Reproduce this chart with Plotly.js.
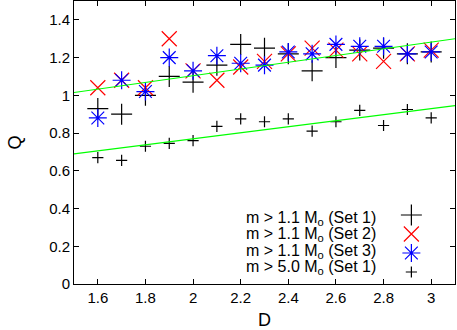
<!DOCTYPE html>
<html>
<head>
<meta charset="utf-8">
<script src="https://cdn.plot.ly/plotly-3.0.1.min.js"></script>
<style>
  html, body { margin: 0; padding: 0; background: #fff; }
  #graph { width: 457px; height: 330px; }
</style>
</head>
<body>
<div id="graph"></div>
<script>
// D values shared by all sets
var dVals = [1.6, 1.7, 1.8, 1.9, 2.0, 2.1, 2.2, 2.3, 2.4, 2.5, 2.6, 2.7, 2.8, 2.9, 3.0];

// Q
var qSet1 = [0.93, 0.90, 1.00, 1.10, 1.07, 1.16, 1.27, 1.25, 1.22, 1.13, 1.20, 1.24, 1.25, 1.22, 1.23];
var qSet2 = [1.04, 1.08, 1.04, 1.30, 1.13, 1.08, 1.15, 1.18, 1.22, 1.25, 1.24, 1.22, 1.18, 1.22, 1.24];
var qSet3 = [0.88, 1.08, 1.02, 1.20, 1.13, 1.21, 1.17, 1.16, 1.23, 1.22, 1.27, 1.26, 1.26, 1.22, 1.23];
var qSet1Big = [0.67, 0.655, 0.73, 0.745, 0.76, 0.835, 0.875, 0.86, 0.875, 0.81, 0.86, 0.92, 0.84, 0.925, 0.88];

// fitted straight lines (end points)
var fitX = [1.5, 3.1];
var fitUpper = [1.015, 1.30];
var fitLower = [0.69, 0.945];

var legendLabels = [
    'm > 1.1 M<sub>o</sub> (Set 1)',
    'm > 1.1 M<sub>o</sub> (Set 2)',
    'm > 1.1 M<sub>o</sub> (Set 3)',
    'm > 5.0 M<sub>o</sub> (Set 1)'
];

var fontFam = '"Liberation Sans", Arial, sans-serif';

var set1 = {
    x: dVals, y: qSet1, type: 'scatter', mode: 'markers', name: ' ',
    marker: {symbol: 'cross-thin-open', size: 15, color: '#000', line: {color: '#000', width: 1.2}}
};
var set2 = {
    x: dVals, y: qSet2, type: 'scatter', mode: 'markers', name: ' ',
    marker: {symbol: 'x-thin-open', size: 15, color: '#ff0000', line: {color: '#ff0000', width: 1.2}}
};
var set3 = {
    x: dVals, y: qSet3, type: 'scatter', mode: 'markers', name: ' ',
    marker: {symbol: 'asterisk-open', size: 15, color: '#0000ff', line: {color: '#0000ff', width: 1.2}}
};
var set4 = {
    x: dVals, y: qSet1Big, type: 'scatter', mode: 'markers', name: ' ',
    marker: {symbol: 'cross-thin-open', size: 8, color: '#000', line: {color: '#000', width: 1.2}}
};
var lineUp = {
    x: fitX, y: fitUpper, type: 'scatter', mode: 'lines', showlegend: false,
    line: {color: '#00ff00', width: 1.2}, hoverinfo: 'skip'
};
var lineLow = {
    x: fitX, y: fitLower, type: 'scatter', mode: 'lines', showlegend: false,
    line: {color: '#00ff00', width: 1.2}, hoverinfo: 'skip'
};

var rowY = [0.233, 0.175, 0.116, 0.057];
var annots = legendLabels.map(function (t, i) {
    return {
        xref: 'paper', yref: 'paper', x: 0.798, y: rowY[i],
        xanchor: 'right', yanchor: 'middle', showarrow: false,
        text: t, font: {family: fontFam, size: 16, color: '#000'}
    };
});

var layout = {
    width: 457, height: 330,
    margin: {l: 74, r: 2, t: 1, b: 46},
    paper_bgcolor: '#fff', plot_bgcolor: '#fff',
    font: {family: fontFam, size: 15, color: '#000'},
    showlegend: true,
    legend: {
        x: 0.833, y: 0.295, xanchor: 'left', yanchor: 'top',
        bgcolor: 'rgba(0,0,0,0)', font: {size: 11}, tracegroupgap: 0
    },
    xaxis: {
        range: [1.5, 3.1], tickvals: [1.6, 1.8, 2, 2.2, 2.4, 2.6, 2.8, 3],
        ticktext: ['1.6', '1.8', '2', '2.2', '2.4', '2.6', '2.8', '3'],
        ticks: 'inside', ticklen: 5, tickcolor: '#000', mirror: 'allticks',
        showline: true, linecolor: '#000', linewidth: 1, showgrid: false, zeroline: false,
        title: {text: 'D', standoff: 11}
    },
    yaxis: {
        range: [0, 1.5], tickvals: [0, 0.2, 0.4, 0.6, 0.8, 1, 1.2, 1.4],
        ticktext: ['0', '0.2', '0.4', '0.6', '0.8', '1', '1.2', '1.4'],
        ticks: 'inside', ticklen: 5, tickcolor: '#000', mirror: 'allticks',
        showline: true, linecolor: '#000', linewidth: 1, showgrid: false, zeroline: false,
        title: {text: 'Q', standoff: 22}
    },
    annotations: annots
};

Plotly.newPlot('graph', [set1, set2, set3, set4, lineUp, lineLow], layout, {staticPlot: true});
</script>
</body>
</html>
